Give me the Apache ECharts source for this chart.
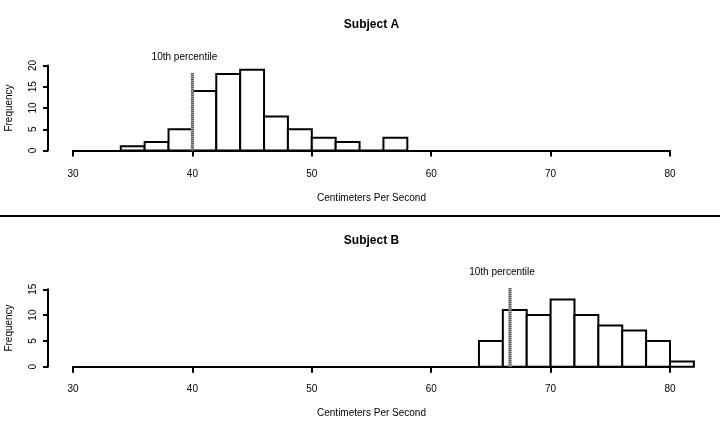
<!DOCTYPE html>
<html>
<head>
<meta charset="utf-8">
<script src="https://cdn.jsdelivr.net/npm/echarts@6/dist/echarts.min.js"></script>
<style>html,body{margin:0;padding:0;background:#fff}#c{width:720px;height:432px}</style>
</head>
<body>
<div id="c"></div>
<script>
// ---- data ----
const titles = ['Subject A', 'Subject B'];
const xTicks = [30, 40, 50, 60, 70, 80];
const binWidth = 2;
const binStartsA = [34, 36, 38, 40, 42, 44, 46, 48, 50, 52, 54, 56];
const countsA = [1, 2, 5, 14, 18, 19, 8, 5, 3, 2, 0, 3];
const binStartsB = [64, 66, 68, 70, 72, 74, 76, 78, 80];
const countsB = [5, 11, 10, 13, 10, 8, 7, 5, 1];
const yMaxA = 20, yMaxB = 15;
const pctA = [40, 18.2];   // [x position, line height]
const pctB = [66.6, 15.2];
const pctLabel = '10th percentile';
const xName = 'Centimeters Per Second';
const yName = 'Frequency';

const FONT = "'Liberation Sans', Arial, Helvetica, sans-serif";
const chart = echarts.init(document.getElementById('c'), null, {renderer: 'canvas'});

function barData(starts, counts) {
  return starts.map((s, i) => [s, s + binWidth, counts[i]]);
}
function renderBar(params, api) {
  const p0 = api.coord([api.value(0), api.value(2)]);
  const p1 = api.coord([api.value(1), 0]);
  return {
    type: 'rect',
    shape: {x: p0[0], y: p0[1], width: p1[0] - p0[0], height: p1[1] - p0[1]},
    style: {fill: '#fff', stroke: '#000', lineWidth: 2}
  };
}
function renderPct(params, api) {
  const top = api.coord([api.value(0), api.value(1)]);
  const bot = api.coord([api.value(0), 0]);
  return {
    type: 'group',
    children: [
      {type: 'line', shape: {x1: top[0], y1: top[1], x2: bot[0], y2: bot[1]},
       style: {stroke: '#c8c8c8', lineWidth: 3}},
      {type: 'line', shape: {x1: top[0], y1: top[1], x2: bot[0], y2: bot[1]},
       style: {stroke: '#333', lineWidth: 3, lineDash: [1, 1]}},
      {type: 'text', x: top[0] - 8, y: top[1] - 16,
       style: {text: pctLabel, fill: '#000', font: '10px ' + FONT, align: 'center', verticalAlign: 'middle'}}
    ]
  };
}

function xAxisCfg(gi, off) {
  return {
    gridIndex: gi, type: 'value', min: xTicks[0], max: xTicks[xTicks.length - 1], interval: 10,
    offset: off,
    axisLine: {lineStyle: {color: '#000', width: 2}},
    axisTick: {length: 6, lineStyle: {color: '#000', width: 2}},
    axisLabel: {color: '#000', fontSize: 10, fontFamily: FONT, margin: 14},
    splitLine: {show: false},
    name: xName, nameLocation: 'middle', nameGap: 38,
    nameTextStyle: {color: '#000', fontSize: 10, fontFamily: FONT}
  };
}
function yAxisCfg(gi, max) {
  return {
    gridIndex: gi, type: 'value', min: 0, max: max, interval: 5, offset: 25,
    axisLine: {show: true, lineStyle: {color: '#000', width: 2}},
    axisTick: {show: true, length: 5, lineStyle: {color: '#000', width: 2}},
    axisLabel: {color: '#000', fontSize: 10, fontFamily: FONT, rotate: 90, margin: 10},
    splitLine: {show: false},
    name: yName, nameLocation: 'middle', nameGap: 34, nameRotate: 90,
    nameTextStyle: {color: '#000', fontSize: 10, fontFamily: FONT}
  };
}

chart.setOption({
  animation: false,
  backgroundColor: '#fff',
  grid: [
    {left: 73, right: 50, top: 65.5, height: 85, containLabel: false, outerBoundsMode: 'none'},
    {left: 73, right: 50, top: 289.3, height: 77.4, containLabel: false, outerBoundsMode: 'none'}
  ],
  xAxis: [xAxisCfg(0, 4.5), xAxisCfg(1, 3.3)],
  yAxis: [yAxisCfg(0, yMaxA), yAxisCfg(1, yMaxB)],
  graphic: [
    {type: 'text', x: 371.5, y: 25, style: {text: titles[0], font: 'bold 12px ' + FONT, fill: '#000', align: 'center', verticalAlign: 'middle'}},
    {type: 'text', x: 371.5, y: 241, style: {text: titles[1], font: 'bold 12px ' + FONT, fill: '#000', align: 'center', verticalAlign: 'middle'}},
    {type: 'line', shape: {x1: 0, y1: 216, x2: 720, y2: 216}, style: {stroke: '#000', lineWidth: 2}}
  ],
  series: [
    {type: 'custom', xAxisIndex: 0, yAxisIndex: 0, clip: false, renderItem: renderBar, data: barData(binStartsA, countsA), z: 2},
    {type: 'custom', xAxisIndex: 1, yAxisIndex: 1, clip: false, renderItem: renderBar, data: barData(binStartsB, countsB), z: 2},
    {type: 'custom', xAxisIndex: 0, yAxisIndex: 0, clip: false, renderItem: renderPct, data: [pctA], z: 3},
    {type: 'custom', xAxisIndex: 1, yAxisIndex: 1, clip: false, renderItem: renderPct, data: [pctB], z: 3}
  ]
});
</script>
</body>
</html>
